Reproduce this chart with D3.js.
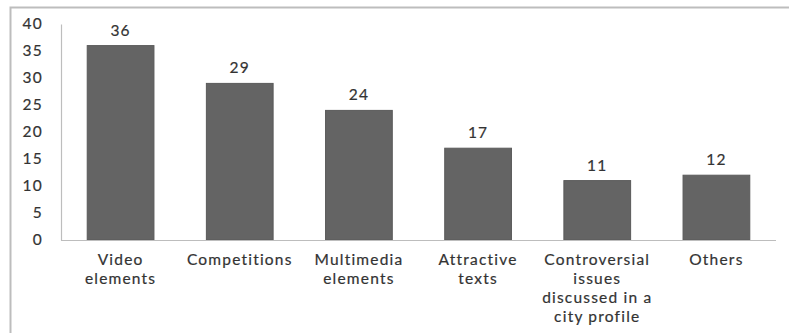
<!DOCTYPE html>
<html>
<head>
<meta charset="utf-8">
<script src="https://cdn.jsdelivr.net/npm/d3@7"></script>
<style>
  html, body { margin: 0; padding: 0; background: #fff; }
  svg { display: block; }
  text { font-family: Lato, "Open Sans", sans-serif; fill: #333; stroke: #333; stroke-width: 0.2px; font-weight: 400; letter-spacing: 1.2px; }
</style>
</head>
<body>
<svg id="chart" width="789" height="333"></svg>
<script>
// Chart data
const categories = [
  ["Video", "elements"],
  ["Competitions"],
  ["Multimedia", "elements"],
  ["Attractive", "texts"],
  ["Controversial", "issues", "discussed in a", "city profile"],
  ["Others"]
];
const values = [36, 29, 24, 17, 11, 12];
const yTicks = [0, 5, 10, 15, 20, 25, 30, 35, 40];

const fontSize = "15.5px";
const svg = d3.select("#chart");

// Frame lines (top and left)
svg.append("path")
  .attr("d", "M10.5,333 V7.5 H789")
  .attr("fill", "none")
  .attr("stroke", "#bdbdbd")
  .attr("stroke-width", 2);

const x = d3.scaleBand()
  .domain(d3.range(values.length))
  .range([61, 776])
  .paddingInner(0.44)
  .paddingOuter(0.22);

const y = d3.scaleLinear().domain([0, 40]).range([240, 24]);

// Y axis
const yAxis = svg.append("g")
  .attr("transform", "translate(61,0)")
  .call(d3.axisLeft(y).tickValues(yTicks).tickSize(0).tickPadding(18));
yAxis.select(".domain").attr("stroke", "#bdbdbd").attr("stroke-width", 1.2);
yAxis.selectAll("text")
  .style("font-size", fontSize)
  .style("font-family", "Lato, \"Open Sans\", sans-serif")
  .attr("fill", "#333");

// Bars
svg.append("g").selectAll("rect")
  .data(values)
  .join("rect")
  .attr("x", (d, i) => x(i))
  .attr("y", d => y(d))
  .attr("width", x.bandwidth())
  .attr("height", d => y(0) - y(d))
  .attr("fill", "#646464")
  .attr("stroke", "#5a5a5a")
  .attr("stroke-width", 1);

// X axis baseline
svg.append("line")
  .attr("x1", 61).attr("x2", 776)
  .attr("y1", y(0) + 0.5).attr("y2", y(0) + 0.5)
  .attr("stroke", "#bdbdbd")
  .attr("stroke-width", 1.2);

// Value labels
svg.append("g").selectAll("text")
  .data(values)
  .join("text")
  .attr("x", (d, i) => x(i) + x.bandwidth() / 2)
  .attr("y", d => y(d) - 10)
  .attr("text-anchor", "middle")
  .style("font-size", fontSize)
  .text(d => d);

// Category labels, one text per line
const lineGap = 19;
svg.append("g").selectAll("g")
  .data(categories)
  .join("g")
  .attr("transform", (d, i) => `translate(${x(i) + x.bandwidth() / 2},265)`)
  .selectAll("text")
  .data(d => d)
  .join("text")
  .attr("y", (d, i) => i * lineGap)
  .attr("text-anchor", "middle")
  .style("font-size", fontSize)
  .text(d => d);
</script>
</body>
</html>
